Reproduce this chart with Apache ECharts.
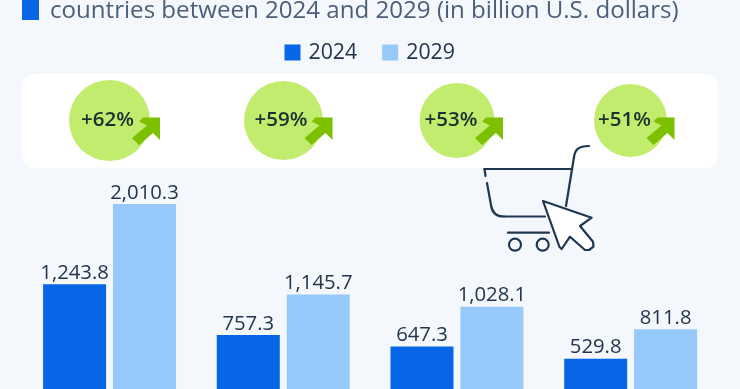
<!DOCTYPE html>
<html><head><meta charset="utf-8">
<style>html,body{margin:0;padding:0;background:#f4f7fb}#c{width:740px;height:389px}</style>
<script src="https://cdn.jsdelivr.net/npm/echarts@6/dist/echarts.min.js"></script></head>
<body><div id="c"></div>
<script>
const countries = ['Market 1','Market 2','Market 3','Market 4'];
const values2024 = [1243.8, 757.3, 647.3, 529.8];
const values2029 = [2010.3, 1145.7, 1028.1, 811.8];
const growthLabels = ['+62%','+59%','+53%','+51%'];
const subtitle = 'countries between 2024 and 2029 (in billion U.S. dollars)';

const FONT = '"Open Sans", sans-serif';
const fmt = v => v.toLocaleString('en-US',{minimumFractionDigits:1,maximumFractionDigits:1});
const circles = [[109.5,120.5,40.5],[283.5,120.5,39.5],[457,120.5,37.5],[630.5,120.5,36.5]];
const arrowTips = [[160,117.5],[332.5,117.5],[503,117.5],[674.5,117.5]];
const labelX = [107.5,281,451,624.5];

const g = [];
g.push({type:'rect',shape:{x:22,y:-4,width:17,height:24},style:{fill:'#0666e5'}});
g.push({type:'text',style:{x:50,y:11,text:subtitle,font:'24.1px '+FONT,fill:'#4c5f7a',textVerticalAlign:'middle'}});
g.push({type:'rect',shape:{x:22,y:74,width:696,height:94,r:12},style:{fill:'#ffffff'}});
circles.forEach((c,i)=>{
  g.push({type:'circle',shape:{cx:c[0],cy:c[1],r:c[2]},style:{fill:'#c1ec6d'}});
  const t=arrowTips[i], x=t[0], y=t[1];
  g.push({type:'polygon',shape:{points:[[x-21,y+4],[x-17,y],[x,y],[x,y+22.5],[x-7,y+15.5],[x-21,y+27.5],[x-28,y+20.5],[x-13,y+8]]},style:{fill:'#7cc000'}});
  g.push({type:'text',style:{x:labelX[i],y:c[1],text:growthLabels[i],font:'600 20.5px '+FONT,fill:'#1c3030',textAlign:'center',textVerticalAlign:'middle'}});
});
const ink='#1f3650';
const stroke={fill:'none',stroke:ink,lineWidth:2.2,lineCap:'round'};
g.push({type:'line',shape:{x1:566,y1:206,x2:574,y2:157},style:stroke});
g.push({type:'bezierCurve',shape:{x1:574,y1:157,cpx1:575,cpy1:150,cpx2:578,cpy2:146,x2:589,y2:146},style:stroke});
g.push({type:'line',shape:{x1:484.5,y1:169,x2:571,y2:169},style:stroke});
g.push({type:'line',shape:{x1:484.5,y1:169,x2:485.5,y2:176},style:stroke});
g.push({type:'line',shape:{x1:487,y1:183,x2:491,y2:205},style:stroke});
g.push({type:'bezierCurve',shape:{x1:491,y1:205,cpx1:492,cpy1:213,cpx2:497,cpy2:216.5,x2:504,y2:216.5},style:stroke});
g.push({type:'line',shape:{x1:504,y1:216.5,x2:545,y2:216.5},style:stroke});
g.push({type:'line',shape:{x1:508,y1:232.7,x2:549,y2:232.7},style:stroke});
[[515,244.7],[542.7,244.7]].forEach(c=>g.push({type:'circle',shape:{cx:c[0],cy:c[1],r:6},style:{fill:'none',stroke:ink,lineWidth:2.2}}));
g.push({type:'polygon',shape:{points:[[543,201],[591.7,217.7],[580,226],[593,241.7],[593.5,246.7],[589,250],[585,250],[570,236.7],[561.7,249],[559.5,247]]},style:{fill:'#ffffff',stroke:ink,lineWidth:2.2,lineJoin:'round'}});

const label = {show:true,position:'top',distance:1,formatter:p=>fmt(p.value),fontFamily:FONT,fontSize:20.3,color:'#23354d'};
const chart = echarts.init(document.getElementById('c'));
chart.setOption({
  animation:false,
  backgroundColor:'#f4f7fb',
  legend:{top:37,left:279.5,itemWidth:16,itemHeight:16,itemGap:25,icon:'rect',
    textStyle:{fontFamily:FONT,fontSize:21.3,color:'#23354d',padding:[0,0,0,3]},
    data:['2024','2029']},
  grid:{left:22.7,width:694.8,top:153,height:261,outerBoundsMode:'none'},
  xAxis:{type:'category',data:countries,axisLine:{show:false},axisTick:{show:false},axisLabel:{show:false}},
  yAxis:{type:'value',min:0,max:2500,show:false},
  series:[
    {name:'2024',type:'bar',data:values2024,barWidth:63,barGap:'11%',itemStyle:{color:'#0666e5'},label,z:5},
    {name:'2029',type:'bar',data:values2029,barWidth:63,barGap:'11%',itemStyle:{color:'#97c9fa'},label,z:5}
  ],
  graphic:{elements:g}
});
</script></body></html>
